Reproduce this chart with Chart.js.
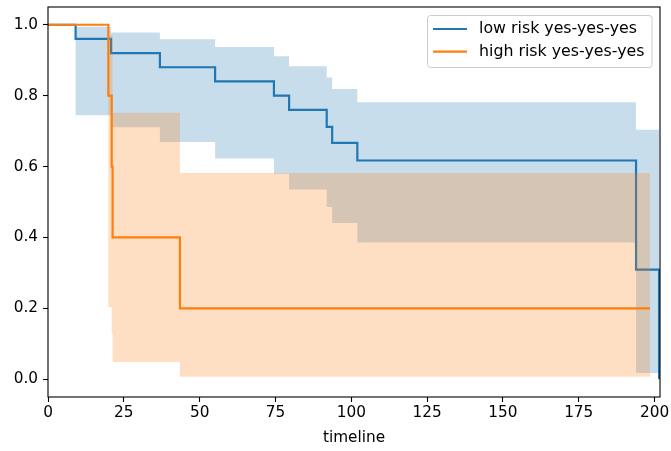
<!DOCTYPE html>
<html>
<head>
<meta charset="utf-8">
<script src="https://cdn.jsdelivr.net/npm/chart.js@4"></script>
<style>
  html, body { margin: 0; padding: 0; background: #fff; }
</style>
</head>
<body>
<canvas id="km" width="671" height="451"></canvas>
<script>
// Kaplan-Meier curves, values

// low risk group
var lowTimes = [0, 9.1, 20.8, 36.9, 55.1, 74.5, 79.5, 91.9, 93.7, 102.0, 193.9, 201.5];
var lowSurvival = [1.0, 0.96, 0.92, 0.88, 0.84, 0.80, 0.76, 0.712, 0.667, 0.617, 0.309, 0.0];
var lowUpper = [1.0, 0.994, 0.978, 0.959, 0.937, 0.911, 0.883, 0.851, 0.819, 0.781, 0.704, 0.704];
var lowLower = [1.0, 0.745, 0.711, 0.669, 0.623, 0.58, 0.535, 0.486, 0.441, 0.386, 0.018, 0.018];

// high risk group
var highTimes = [0, 19.9, 21.0, 21.3, 43.5, 198.5];
var highSurvival = [1.0, 0.8, 0.6, 0.4, 0.2, 0.2];
var highUpper = [1.0, 0.97, 0.97, 0.752, 0.582, 0.582];
var highLower = [1.0, 0.204, 0.13, 0.049, 0.007, 0.007];

// axes
var xTicks = [0, 25, 50, 75, 100, 125, 150, 175, 200];
var yTicks = [0.0, 0.2, 0.4, 0.6, 0.8, 1.0];

var blue = '#1f77b4';
var orange = '#ff7f0e';
var font = '"DejaVu Sans", sans-serif';
var fontSize = 15.3;

// Turn two arrays into {x, y} points
var toPoints = (times, values) => times.map((t, i) => ({ x: t, y: values[i] }));

// Curve dataset
var curve = (label, times, values, color, order) => ({
    label: label,
    data: toPoints(times, values),
    borderColor: color,
    borderWidth: 2.2,
    pointRadius: 0,
    stepped: 'before',
    fill: false,
    order: order,
    inLegend: true
});

// Invisible edge of a confidence band
var bandEdge = (times, values, fill, color, order) => ({
    label: '',
    data: toPoints(times, values),
    borderColor: 'transparent',
    borderWidth: 0,
    backgroundColor: color,
    pointRadius: 0,
    stepped: 'before',
    fill: fill,
    order: order
});

// Box round the plot area
var frame = {
    id: 'frame',
    afterDatasetsDraw(chart) {
        var a = chart.chartArea, ctx = chart.ctx;
        ctx.save();
        ctx.strokeStyle = '#000';
        ctx.lineWidth = 1.1;
        ctx.strokeRect(a.left, a.top, a.right - a.left, a.bottom - a.top);
        ctx.restore();
    }
};

// Legend in the upper right corner, matplotlib style
var legendBox = {
    id: 'legendBox',
    afterDraw(chart) {
        var a = chart.chartArea, ctx = chart.ctx;
        var items = chart.data.datasets.filter(d => d.inLegend);
        ctx.save();
        ctx.font = '15.8px ' + font;
        var textW = Math.max(...items.map(d => ctx.measureText(d.label).width));
        var w = 51.5 + textW + 7.5;
        var h = 52;
        var x = a.right - 8 - w;
        var y = a.top + 8.5;

        ctx.beginPath();
        ctx.roundRect(x, y, w, h, 3);
        ctx.fillStyle = 'rgba(255,255,255,0.8)';
        ctx.fill();
        ctx.strokeStyle = '#cccccc';
        ctx.lineWidth = 1;
        ctx.stroke();

        items.forEach((d, i) => {
            var cy = y + 13.5 + i * 22.7;
            ctx.beginPath();
            ctx.moveTo(x + 5.5, cy);
            ctx.lineTo(x + 39.5, cy);
            ctx.strokeStyle = d.borderColor;
            ctx.lineWidth = 2.2;
            ctx.stroke();
            ctx.fillStyle = '#000';
            ctx.textBaseline = 'middle';
            ctx.fillText(d.label, x + 51.5, cy);
        });
        ctx.restore();
    }
};

// Fix axis size and drop the extra room Chart.js keeps for end labels
var fixSize = (s, size) => {
    if (s.isHorizontal()) s.height = size; else s.width = size;
    s.paddingTop = 0;
    s.paddingBottom = 0;
    s.paddingLeft = 0;
    s.paddingRight = 0;
};

var ctx = document.getElementById('km').getContext('2d');

var chart = new Chart(ctx, {
    type: 'line',
    data: {
        datasets: [
            curve('low risk yes-yes-yes', lowTimes, lowSurvival, blue, 3),
            bandEdge(lowTimes, lowUpper, false, 'transparent', 5),
            bandEdge(lowTimes, lowLower, '-1', 'rgba(31,119,180,0.25)', 4),
            curve('high risk yes-yes-yes', highTimes, highSurvival, orange, 0),
            bandEdge(highTimes, highUpper, false, 'transparent', 2),
            bandEdge(highTimes, highLower, '-1', 'rgba(255,127,14,0.25)', 1)
        ]
    },
    options: {
        responsive: false,
        animation: false,
        layout: { padding: { left: 0, right: 11, top: 7, bottom: 0 } },
        plugins: {
            legend: { display: false },
            tooltip: { enabled: false }
        },
        scales: {
            x: {
                type: 'linear',
                min: 0,
                max: 201.8,
                afterFit: s => fixSize(s, 54),
                afterBuildTicks: s => { s.ticks = xTicks.map(v => ({ value: v })); },
                grid: { display: true, drawOnChartArea: false, tickLength: 5, color: '#000', tickWidth: 1.1 },
                border: { display: false },
                ticks: { color: '#000', font: { family: font, size: fontSize }, padding: 2, maxRotation: 0 },
                title: {
                    display: true,
                    text: 'timeline',
                    color: '#000',
                    font: { family: font, size: fontSize },
                    padding: { top: 2, bottom: 4 }
                }
            },
            y: {
                type: 'linear',
                min: -0.05,
                max: 1.05,
                afterFit: s => fixSize(s, 48),
                afterBuildTicks: s => { s.ticks = yTicks.map(v => ({ value: v })); },
                grid: { display: true, drawOnChartArea: false, tickLength: 5, color: '#000', tickWidth: 1.1 },
                border: { display: false },
                ticks: {
                    color: '#000',
                    font: { family: font, size: fontSize },
                    padding: 5,
                    callback: v => v.toFixed(1)
                }
            }
        }
    },
    plugins: [frame, legendBox]
});
</script>
</body>
</html>
